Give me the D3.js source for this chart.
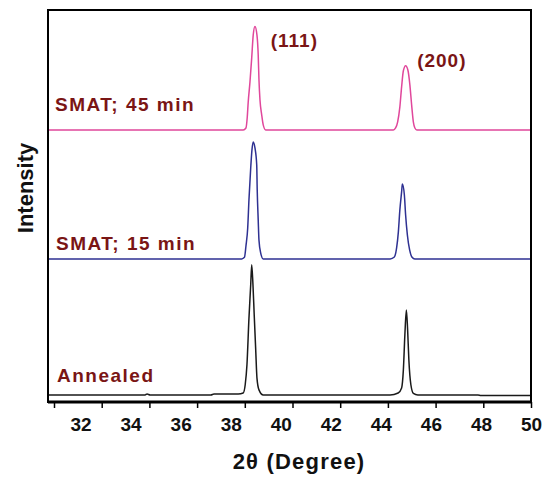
<!DOCTYPE html>
<html>
<head>
<meta charset="utf-8">
<script src="https://cdn.jsdelivr.net/npm/d3@7"></script>
<style>
  body { margin: 0; background: #fff; }
  svg text { font-family: "Liberation Sans", Arial, sans-serif; font-weight: bold; }
</style>
</head>
<body>
<div id="chart"></div>
<script>
var width = 543;
var height = 477;

// 2theta (deg) / intensity (a.u.)
var annealed = [
    [30.70, 0], [34.58, 0], [34.66, 0.25], [34.78, 0], [37.21, 0], [37.33, 0.25], [38.30, 0.25],
    [38.50, 0.5], [38.58, 2.6], [38.65, 7.7], [38.73, 19.6], [38.80, 28.1], [38.84, 33.2],
    [38.89, 28.1], [38.94, 20.4], [39.00, 11.5], [39.05, 4.3], [39.13, 1.3], [39.30, 0],
    [44.37, 0], [44.69, 0.5], [44.83, 1.8], [44.90, 6.4], [44.96, 15.3], [45.02, 21.7],
    [45.07, 16.6], [45.12, 8.9], [45.20, 2.6], [45.30, 0.4], [45.48, 0], [47.88, 0],
    [48.00, -0.15], [50.00, -0.15]
];
var smat15 = [
    [30.70, 0], [38.44, 0], [38.55, 0.4], [38.61, 3.3], [38.68, 7.9], [38.73, 15.1],
    [38.80, 23.2], [38.85, 27.8], [38.90, 29.8], [38.97, 28.3], [39.04, 24.0], [39.06, 17.6],
    [39.10, 9.9], [39.13, 4.8], [39.20, 1.5], [39.30, 0], [44.37, 0], [44.54, 0.5],
    [44.63, 2.8], [44.70, 6.9], [44.76, 12.5], [44.83, 17.1], [44.86, 19.1], [44.94, 16.3],
    [44.99, 11.2], [45.06, 6.1], [45.15, 2.3], [45.24, 0.5], [45.36, 0], [50.00, 0]
];
var smat45 = [
    [30.70, 0], [38.50, 0], [38.61, 0.5], [38.66, 3.1], [38.70, 7.1], [38.77, 12.2],
    [38.84, 18.4], [38.90, 24.2], [38.97, 26.4], [39.05, 24.2], [39.10, 19.1], [39.13, 12.8],
    [39.17, 7.7], [39.24, 3.8], [39.30, 1.3], [39.40, 0], [44.50, 0], [44.59, 0.5],
    [44.67, 2.0], [44.76, 5.9], [44.83, 11.0], [44.90, 15.1], [44.99, 16.4], [45.08, 15.3],
    [45.16, 11.5], [45.23, 6.4], [45.30, 2.0], [45.36, 0.5], [45.44, 0], [50.00, 0]
];

var seriesNames = ["Annealed", "SMAT; 15 min", "SMAT; 45 min"];
var seriesData = [annealed, smat15, smat45];
var seriesOffset = [1.8, 36.5, 69.4];
var seriesColor = ["#1a1a1a", "#2e3192", "#e0479b"];

var peakLabels = ["(111)", "(200)"];
var peakPos = [[39.6, 90.6], [45.45, 85.5]];

var tickValues = [30, 32, 34, 36, 38, 40, 42, 44, 46, 48, 50];
var labelValues = [32, 34, 36, 38, 40, 42, 44, 46, 48, 50];

var plotLeft = 48, plotRight = 531, plotTop = 10, plotBottom = 402;

var svg = d3.select("#chart").append("svg")
    .attr("width", width)
    .attr("height", height);

var x = d3.scaleLinear().domain([30.7, 50]).range([plotLeft, plotRight]);
// the tick marks in the figure sit on their own spacing
var xTick = d3.scaleLinear().domain([30, 50]).range([54, plotRight]);
var y = d3.scaleLinear().domain([0, 100]).range([plotBottom, plotTop]);

var line = d3.line()
    .x(function (d) { return x(d[0]); })
    .y(function (d) { return y(d[1]); })
    .curve(d3.curveMonotoneX);

seriesData.forEach(function (data, i) {
    var off = seriesOffset[i];
    svg.append("path")
        .datum(data.map(function (d) { return [d[0], d[1] + off]; }))
        .attr("fill", "none")
        .attr("stroke", seriesColor[i])
        .attr("stroke-width", 1.5)
        .attr("d", line);
});

// frame
svg.append("rect")
    .attr("x", plotLeft).attr("y", plotTop)
    .attr("width", plotRight - plotLeft).attr("height", plotBottom - plotTop)
    .attr("fill", "none")
    .attr("stroke", "#000")
    .attr("stroke-width", 2);

// tick marks
var tickAxis = svg.append("g")
    .attr("transform", "translate(0," + plotBottom + ")")
    .call(d3.axisBottom(xTick).tickValues(tickValues).tickSize(6).tickFormat(""));
tickAxis.select(".domain").remove();
tickAxis.selectAll("line").attr("stroke", "#000").attr("stroke-width", 1.5);

// tick labels
var labelAxis = svg.append("g")
    .attr("transform", "translate(0," + plotBottom + ")")
    .call(d3.axisBottom(x).tickValues(labelValues).tickSize(0).tickPadding(16));
labelAxis.select(".domain").attr("stroke", "#000").attr("stroke-width", 3)
    .attr("d", "M" + plotLeft + ",0H" + plotRight);
labelAxis.selectAll("text")
    .attr("font-size", 19)
    .attr("fill", "#111")
    .attr("font-family", "Liberation Sans, Arial, sans-serif")
    .attr("font-weight", "bold");

svg.append("text")
    .attr("x", 299).attr("y", 469)
    .attr("text-anchor", "middle")
    .attr("font-size", 22)
    .attr("letter-spacing", 1.2)
    .attr("fill", "#111")
    .text("2\u03b8 (Degree)");

svg.append("text")
    .attr("transform", "translate(33,188) rotate(-90)")
    .attr("text-anchor", "middle")
    .attr("font-size", 22)
    .attr("fill", "#111")
    .text("Intensity");

// series names
var nameColor = "#7a1515";
var namePos = [[57, 382], [56, 250], [55, 111]];
seriesNames.forEach(function (n, i) {
    svg.append("text")
        .attr("x", namePos[i][0]).attr("y", namePos[i][1])
        .attr("font-size", 19)
        .attr("letter-spacing", 1.5)
        .attr("fill", nameColor)
        .text(n);
});

peakLabels.forEach(function (p, i) {
    svg.append("text")
        .attr("x", x(peakPos[i][0])).attr("y", y(peakPos[i][1]))
        .attr("font-size", 19)
        .attr("letter-spacing", 1)
        .attr("fill", nameColor)
        .text(p);
});
</script>
</body>
</html>
